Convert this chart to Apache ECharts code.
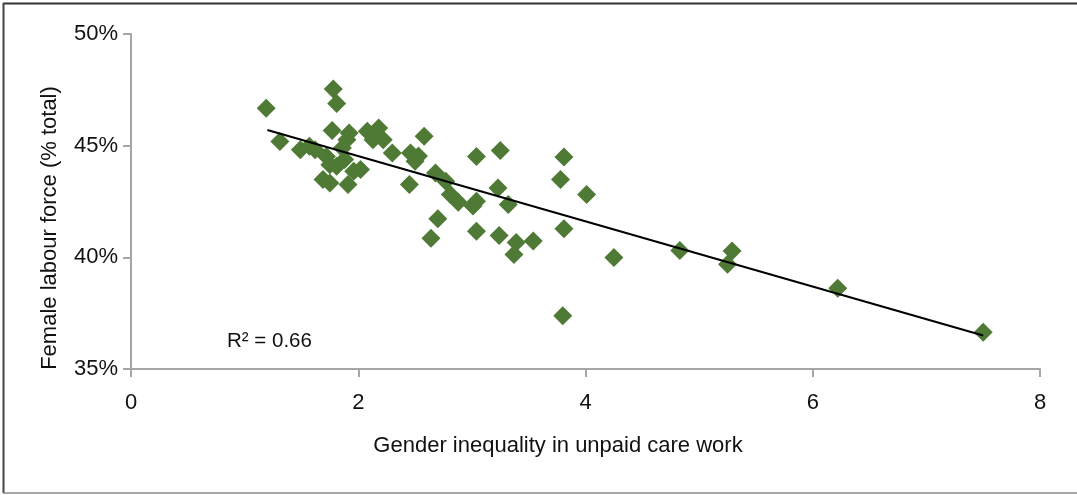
<!DOCTYPE html>
<html>
<head>
<meta charset="utf-8">
<script src="https://cdn.jsdelivr.net/npm/echarts@6/dist/echarts.min.js"></script>
<style>
html,body{margin:0;padding:0;background:#fff;}
#chart{width:1077px;height:495px;}
</style>
</head>
<body>
<div id="chart"></div>
<script>
// Gender inequality in unpaid care work (x)
var careGap = [1.19,1.31,1.78,1.81,1.77,1.49,1.57,1.62,1.92,1.90,1.86,1.72,1.75,1.81,1.88,1.69,1.75,1.91,1.96,2.02,2.08,2.18,2.13,2.22,2.30,2.46,2.53,2.50,2.58,2.45,2.68,2.77,2.81,2.88,3.01,3.04,2.70,2.64,3.04,3.25,3.23,3.32,3.04,3.24,3.39,3.37,3.54,3.81,3.78,4.01,3.81,4.25,4.83,5.29,5.25,6.22,3.80,7.50];
// Female labour force (% total) (y)
var femaleLabour = [46.67,45.19,47.54,46.89,45.68,44.82,44.97,44.82,45.57,45.27,44.90,44.52,44.15,44.08,44.38,43.48,43.33,43.26,43.85,43.93,45.64,45.79,45.27,45.27,44.67,44.67,44.54,44.30,45.42,43.26,43.78,43.41,42.81,42.47,42.30,42.51,41.73,40.85,44.52,44.78,43.11,42.37,41.17,40.98,40.66,40.13,40.73,44.49,43.48,42.81,41.28,39.99,40.31,40.28,39.69,38.62,37.38,36.64];
// Linear trend line endpoints
var trendX = [1.2, 7.5];
var trendY = [45.7, 36.5];
var xTicks = [0, 2, 4, 6, 8];
var yTicks = [35, 40, 45, 50];
var rSquaredText = 'R² = 0.66';
var xTitle = 'Gender inequality in unpaid care work';
var yTitle = 'Female labour force (% total)';

var points = careGap.map(function(x, i){ return [x, femaleLabour[i]]; });
var trend = trendX.map(function(x, i){ return [x, trendY[i]]; });

var chart = echarts.init(document.getElementById('chart'), null, {renderer:'canvas'});
var font = 'Liberation Sans, Arial, Helvetica, sans-serif';
chart.setOption({
  animation: false,
  backgroundColor: '#ffffff',
  grid: {left: 131, right: 37, top: 34, bottom: 126, containLabel: false},
  xAxis: {
    type: 'value', min: xTicks[0], max: xTicks[xTicks.length-1], interval: 2,
    axisLine: {show: true, onZero: false, lineStyle: {color: '#a6a6a6', width: 2}},
    axisTick: {show: true, inside: false, length: 8, lineStyle: {color: '#a6a6a6', width: 2}},
    axisLabel: {color: '#111', fontSize: 22, fontFamily: font, margin: 23},
    splitLine: {show: false}
  },
  yAxis: {
    type: 'value', min: yTicks[0], max: yTicks[yTicks.length-1], interval: 5,
    axisLine: {show: true, onZero: false, lineStyle: {color: '#a6a6a6', width: 2}},
    axisTick: {show: true, inside: false, length: 8, lineStyle: {color: '#a6a6a6', width: 2}},
    axisLabel: {color: '#111', fontSize: 22, fontFamily: font, margin: 13, formatter: '{value}%'},
    splitLine: {show: false}
  },
  series: [
    {
      type: 'scatter', data: points, symbol: 'diamond', symbolSize: 19,
      itemStyle: {color: '#4e7a35', opacity: 1}, z: 2
    },
    {
      type: 'line', data: trend, showSymbol: false, symbol: 'none',
      lineStyle: {color: '#000', width: 2}, z: 3
    }
  ],
  graphic: [
    {type: 'line', shape: {x1: 3, y1: 3.5, x2: 1077, y2: 3.5}, style: {stroke: '#333', lineWidth: 2}, silent: true},
    {type: 'line', shape: {x1: 3.5, y1: 3, x2: 3.5, y2: 493}, style: {stroke: '#444', lineWidth: 2}, silent: true},
    {type: 'line', shape: {x1: 3, y1: 493, x2: 1077, y2: 493}, style: {stroke: '#888', lineWidth: 1.5}, silent: true},
    {type: 'text', x: 227, y: 341, style: {text: rSquaredText, fill: '#111', fontSize: 20.5, fontFamily: font, textVerticalAlign: 'middle'}},
    {type: 'text', x: 558, y: 446, style: {text: xTitle, fill: '#111', fontSize: 22, fontFamily: font, textAlign: 'center', textVerticalAlign: 'middle'}},
    {type: 'text', x: 50, y: 228, rotation: Math.PI/2, style: {text: yTitle, fill: '#111', fontSize: 22, fontFamily: font, textAlign: 'center', textVerticalAlign: 'middle'}}
  ]
});
</script>
</body>
</html>
